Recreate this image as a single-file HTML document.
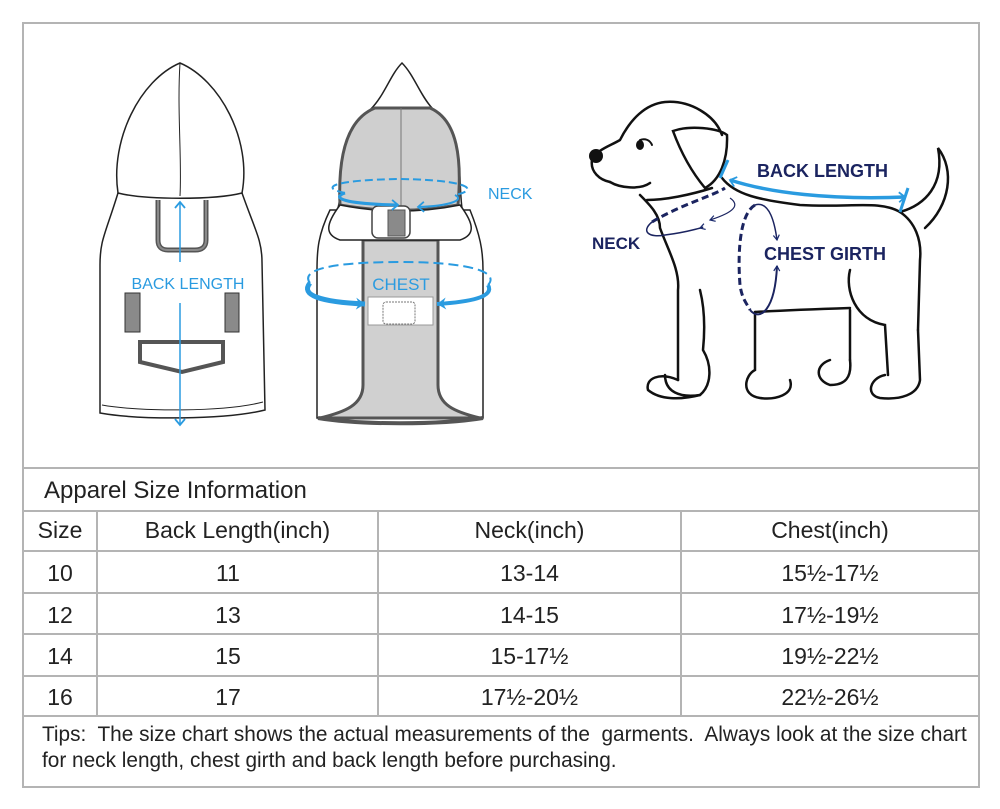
<!DOCTYPE html>
<html><head><meta charset="utf-8">
<style>
html,body{margin:0;padding:0;background:#fff;}
body{width:1000px;height:809px;position:relative;overflow:hidden;font-family:"Liberation Sans",Arial,sans-serif;}
.frame{position:absolute;left:22px;top:22px;width:954px;height:762px;border:2px solid #b4b4b4;}
.h{position:absolute;left:22px;width:958px;height:2px;background:#b4b4b4;}
.v{position:absolute;width:2px;background:#b4b4b4;}
.t{position:absolute;font-size:22px;color:#222;white-space:nowrap;}
.c{position:absolute;font-size:23px;color:#222;text-align:center;}
svg{position:absolute;left:0;top:0;}
</style></head><body>
<div class="frame"></div>
<div class="h" style="top:467px"></div>
<div class="h" style="top:510px"></div>
<div class="h" style="top:550px"></div>
<div class="h" style="top:592px"></div>
<div class="h" style="top:633px"></div>
<div class="h" style="top:675px"></div>
<div class="h" style="top:715px"></div>
<div class="v" style="left:96px;top:511px;height:205px"></div>
<div class="v" style="left:377px;top:511px;height:205px"></div>
<div class="v" style="left:680px;top:511px;height:205px"></div>

<div class="t" style="left:44px;top:477px;font-size:24px">Apparel Size Information</div>
<div class="c" style="left:24px;width:72px;top:517px">Size</div>
<div class="c" style="left:98px;width:279px;top:517px">Back Length(inch)</div>
<div class="c" style="left:379px;width:301px;top:517px">Neck(inch)</div>
<div class="c" style="left:682px;width:296px;top:517px">Chest(inch)</div>

<div class="c" style="left:24px;width:72px;top:560px">10</div>
<div class="c" style="left:98px;width:260px;top:560px">11</div>
<div class="c" style="left:379px;width:301px;top:560px">13-14</div>
<div class="c" style="left:682px;width:296px;top:560px">15½-17½</div>

<div class="c" style="left:24px;width:72px;top:602px">12</div>
<div class="c" style="left:98px;width:260px;top:602px">13</div>
<div class="c" style="left:379px;width:301px;top:602px">14-15</div>
<div class="c" style="left:682px;width:296px;top:602px">17½-19½</div>

<div class="c" style="left:24px;width:72px;top:643px">14</div>
<div class="c" style="left:98px;width:260px;top:643px">15</div>
<div class="c" style="left:379px;width:301px;top:643px">15-17½</div>
<div class="c" style="left:682px;width:296px;top:643px">19½-22½</div>

<div class="c" style="left:24px;width:72px;top:684px">16</div>
<div class="c" style="left:98px;width:260px;top:684px">17</div>
<div class="c" style="left:379px;width:301px;top:684px">17½-20½</div>
<div class="c" style="left:682px;width:296px;top:684px">22½-26½</div>

<div class="t" style="left:42px;top:723px;font-size:20.8px">Tips:&nbsp; The size chart shows the actual measurements of the&nbsp; garments.&nbsp; Always look at the size chart</div>
<div class="t" style="left:42px;top:749px;font-size:20.8px">for neck length, chest girth and back length before purchasing.</div>

<svg width="1000" height="470" viewBox="0 0 1000 470">
<defs>
<marker id="ab" markerUnits="userSpaceOnUse" markerWidth="12" markerHeight="12" refX="8" refY="6" orient="auto"><path d="M2,1 L8,6 L2,11" fill="none" stroke="#2a9be0" stroke-width="1.8"/></marker>
<marker id="abs" markerUnits="userSpaceOnUse" markerWidth="12" markerHeight="12" refX="4" refY="6" orient="auto"><path d="M10,1 L4,6 L10,11" fill="none" stroke="#2a9be0" stroke-width="1.8"/></marker>
<marker id="ab2" markerUnits="userSpaceOnUse" markerWidth="14" markerHeight="14" refX="10" refY="7" orient="auto"><path d="M1,1 L10,7 L1,13 L4,7 Z" fill="#2a9be0"/></marker>
<marker id="an" markerUnits="userSpaceOnUse" markerWidth="8" markerHeight="8" refX="6" refY="4" orient="auto"><path d="M1,1 L6,4 L1,7" fill="none" stroke="#1a2a6e" stroke-width="1.2"/></marker>
</defs>
<g fill="#fff" stroke="#222" stroke-width="1.5">
<path d="M118,193 C105,235 100,240 100,265 L100,413 C140,420 225,420 265,410 L262,262 C262,240 255,230 242,193 Z"/>
<path d="M118,193 C110,140 140,80 180,63 C220,80 252,140 242,193 C215,200 145,200 118,193 Z"/>
<path d="M180,63 C177,110 182,160 180,196" fill="none" stroke-width="1"/>
</g>
<path d="M158,200 L158,240 Q158,250 168,250 L195,250 Q206,250 206,240 L206,200" fill="none" stroke="#555" stroke-width="5"/>
<path d="M158,200 L158,240 Q158,250 168,250 L195,250 Q206,250 206,240 L206,200" fill="none" stroke="#8a8a8a" stroke-width="2"/>
<path d="M102,405 C140,412 225,412 263,402" fill="none" stroke="#222" stroke-width="1"/>
<rect x="125" y="293" width="15" height="39" fill="#8a8a8a" stroke="#333" stroke-width="1"/>
<rect x="225" y="293" width="14" height="39" fill="#8a8a8a" stroke="#333" stroke-width="1"/>
<path d="M140,342 L223,342 L223,362 L182,372 L140,362 Z" fill="#fff" stroke="#555" stroke-width="4"/>
<line x1="180" y1="202" x2="180" y2="262" stroke="#2a9be0" stroke-width="1.5" marker-start="url(#abs)"/>
<line x1="180" y1="303" x2="180" y2="425" stroke="#2a9be0" stroke-width="1.5" marker-end="url(#ab)"/>
<text x="188" y="289" text-anchor="middle" font-family="Liberation Sans,Arial,sans-serif" font-size="16" fill="#2a9be0">BACK LENGTH</text>

<g stroke="#222" stroke-width="1.5">
<path d="M330,210 C318,235 317,250 317,270 L317,418 L483,418 L483,270 C483,250 480,235 470,210 Z" fill="#fff"/>
<path d="M363,240 L363,385 C363,405 345,412 320,418 L480,418 C455,412 438,405 438,385 L438,240 Z" fill="#d0d0d0" stroke="#555" stroke-width="3"/>
<rect x="368" y="297" width="65" height="28" fill="#fff" stroke="#999" stroke-width="1"/>
<rect x="383" y="302" width="32" height="22" rx="3" fill="#fff" stroke="#777" stroke-width="1" stroke-dasharray="2,1"/>
<path d="M338,208 C345,180 340,135 370,110 C385,95 390,75 402,63 C414,75 420,95 432,108 C465,135 458,180 462,208 Z" fill="#fff"/>
<path d="M340,205 C338,160 345,120 375,108 L430,108 C458,120 462,160 458,205 C420,212 380,212 340,205 Z" fill="#cfcfcf" stroke="#555" stroke-width="3"/>
<line x1="401" y1="108" x2="401" y2="208" stroke="#777" stroke-width="1"/>
<path d="M340,205 C325,225 325,235 340,240 L460,240 C475,235 475,225 460,205 C420,213 380,213 340,205 Z" fill="#fff"/>
<rect x="372" y="206" width="38" height="32" rx="6" fill="#fff" stroke="#444" stroke-width="1.5"/>
<rect x="388" y="210" width="17" height="26" fill="#8a8a8a" stroke="#555" stroke-width="1"/>
</g>
<path d="M318,418 C360,425 440,425 483,418" fill="none" stroke="#555" stroke-width="4"/>
<path d="M345,193 C320,188 330,180 400,179 C470,180 480,190 455,195" fill="none" stroke="#2a9be0" stroke-width="2" stroke-dasharray="8,4"/>
<path d="M345,193 C330,198 345,204 398,205" fill="none" stroke="#2a9be0" stroke-width="3" marker-end="url(#ab)"/>
<path d="M455,195 C465,200 450,206 418,207" fill="none" stroke="#2a9be0" stroke-width="2" marker-end="url(#ab)"/>
<path d="M310,283 C300,270 330,262 400,262 C470,262 500,272 488,285" fill="none" stroke="#2a9be0" stroke-width="2" stroke-dasharray="10,5"/>
<path d="M310,283 C300,295 320,302 365,304" fill="none" stroke="#2a9be0" stroke-width="5" marker-end="url(#ab2)"/>
<path d="M488,285 C495,297 470,302 437,304" fill="none" stroke="#2a9be0" stroke-width="4" marker-end="url(#ab2)"/>
<text x="401" y="290" text-anchor="middle" font-family="Liberation Sans,Arial,sans-serif" font-size="17" fill="#2a9be0">CHEST</text>
<text x="488" y="199" font-family="Liberation Sans,Arial,sans-serif" font-size="16" fill="#2a9be0">NECK</text>

<g fill="none" stroke="#111" stroke-width="2.5" stroke-linecap="round">
<path d="M610,182 C600,180 590,172 592,160 C596,150 610,146 620,140 C630,120 645,104 665,102 C690,100 715,115 722,135"/>
<path d="M610,182 C620,188 640,190 650,183"/>
<path d="M647,200 C665,200 690,195 712,188"/>
<path d="M640,195 C650,205 660,215 660,228 C668,250 680,270 678,290 L678,380"/>
<path d="M673,131 C690,125 718,128 727,135 C728,160 720,180 705,188 C690,170 680,150 673,131 Z"/>
<path d="M722,178 C735,195 760,200 800,205 C850,208 880,200 900,212 C915,222 922,240 920,260 L918,330"/>
<path d="M900,212 C925,205 945,185 938,148 C955,170 950,205 925,228"/>
<path d="M755,312 C790,310 820,309 850,308"/>
<path d="M850,270 C845,290 855,320 885,325 L888,375"/>
<path d="M850,310 L850,360"/>
<path d="M700,290 C705,310 705,330 703,350 C712,365 712,385 700,395 C680,398 665,392 665,375"/>
<path d="M678,380 C660,372 645,378 648,390 C660,400 680,400 700,395"/>
<path d="M755,312 L755,370 C745,375 740,395 760,398 C775,400 795,395 790,380"/>
<path d="M885,375 C870,378 865,395 880,398 C900,400 918,395 920,380 L918,330"/>
<path d="M830,360 C815,365 815,380 830,385 C845,385 852,378 850,360"/>
<path d="M640,140 C645,138 650,140 652,145" stroke-width="2"/>
</g>
<circle cx="596" cy="156" r="7" fill="#111"/>
<ellipse cx="640" cy="145" rx="4" ry="5" fill="#111"/>
<path d="M730,180 C770,193 830,200 905,197" fill="none" stroke="#2a9be0" stroke-width="3.5" marker-start="url(#abs)" marker-end="url(#ab)"/>
<line x1="728" y1="160" x2="720" y2="178" stroke="#2a9be0" stroke-width="3"/>
<line x1="908" y1="188" x2="900" y2="212" stroke="#2a9be0" stroke-width="3"/>
<text x="757" y="177" font-family="Liberation Sans,Arial,sans-serif" font-weight="bold" font-size="18" fill="#1b2460">BACK LENGTH</text>
<path d="M652,222 C680,205 715,195 725,188" fill="none" stroke="#1b2460" stroke-width="3" stroke-dasharray="7,4"/>
<path d="M652,222 C640,232 650,238 665,235 C690,232 710,225 700,228" fill="none" stroke="#1b2460" stroke-width="1.5" marker-end="url(#an)"/>
<path d="M730,198 C740,205 735,212 710,220" fill="none" stroke="#1b2460" stroke-width="1.2" marker-end="url(#an)"/>
<text x="592" y="249" font-family="Liberation Sans,Arial,sans-serif" font-weight="bold" font-size="17" fill="#1b2460">NECK</text>
<path d="M755,205 C738,215 738,260 740,285 C742,300 748,305 750,310" fill="none" stroke="#1b2460" stroke-width="3" stroke-dasharray="7,4"/>
<path d="M755,205 C770,200 775,225 777,240" fill="none" stroke="#1b2460" stroke-width="1.5" marker-end="url(#an)"/>
<path d="M750,310 C760,322 775,310 777,266" fill="none" stroke="#1b2460" stroke-width="2" marker-end="url(#an)"/>
<text x="764" y="260" font-family="Liberation Sans,Arial,sans-serif" font-weight="bold" font-size="18" fill="#1b2460">CHEST GIRTH</text>
</svg>
</body></html>
